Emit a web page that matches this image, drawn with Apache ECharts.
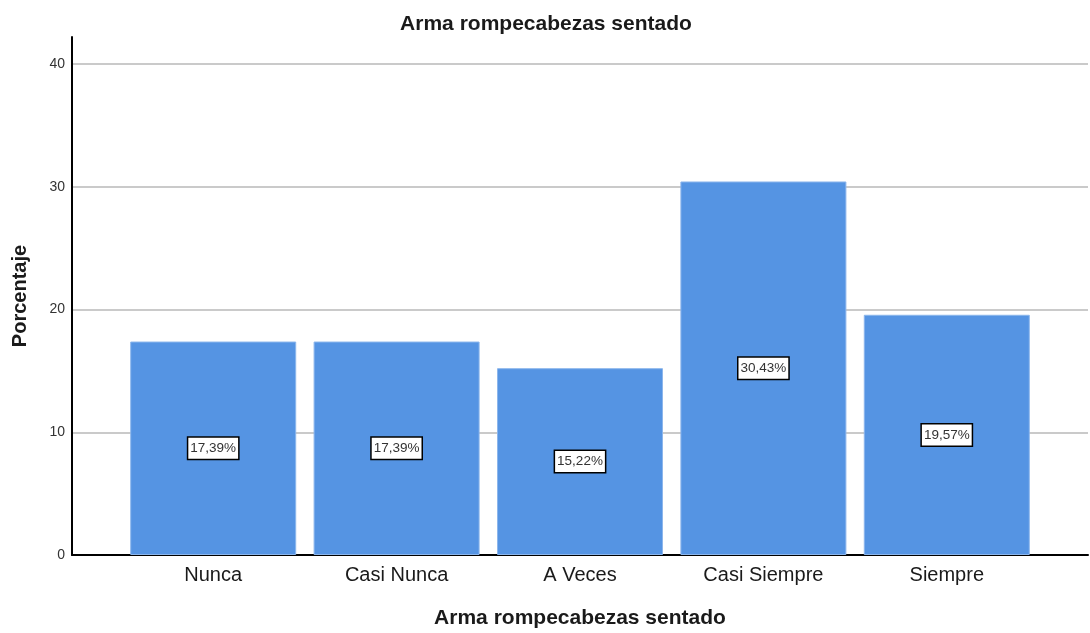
<!DOCTYPE html>
<html><head><meta charset="utf-8">
<script src="https://cdn.jsdelivr.net/npm/echarts@6/dist/echarts.min.js"></script>
<style>html,body{margin:0;padding:0;background:#fff}#c{width:1090px;height:633px}</style>
</head><body><div id="c"></div>
<script>
const categories = ["Nunca", "Casi Nunca", "A Veces", "Casi Siempre", "Siempre"];
const values = [17.39, 17.39, 15.22, 30.43, 19.57];
const yTicks = [0, 10, 20, 30, 40];

const chart = echarts.init(document.getElementById('c'), null, {renderer: 'canvas'});
const F = 'Liberation Sans, Arial, sans-serif';
chart.setOption({
  animation: false,
  backgroundColor: '#fff',
  title: {
    text: 'Arma rompecabezas sentado', left: 541, top: 9, textAlign: 'center',
    textStyle: {fontFamily: F, fontSize: 21, fontWeight: 'bold', color: '#1a1a1a'}
  },
  grid: {left: 72, right: 2, top: 37, bottom: 78, containLabel: false, outerBoundsMode: 'none'},
  xAxis: {
    type: 'value', min: -0.77, max: 4.77,
    name: 'Arma rompecabezas sentado', nameLocation: 'middle', nameGap: 53,
    nameTextStyle: {fontFamily: F, fontSize: 21, fontWeight: 'bold', color: '#1a1a1a'},
    axisLine: {show: true, onZero: true, lineStyle: {color: '#000', width: 2}},
    axisTick: {show: false},
    splitLine: {show: false},
    axisLabel: {
      customValues: categories.map((c, i) => i),
      formatter: v => categories[Math.round(v)] || '',
      margin: 10, fontFamily: F, fontSize: 20, color: '#1a1a1a'
    }
  },
  yAxis: {
    type: 'value', min: 0, max: 42.2,
    name: 'Porcentaje', nameLocation: 'middle', nameGap: 42, nameRotate: 90,
    nameTextStyle: {fontFamily: F, fontSize: 20, fontWeight: 'bold', color: '#1a1a1a'},
    axisLine: {show: true, onZero: false, lineStyle: {color: '#000', width: 2}},
    axisTick: {show: false},
    splitLine: {show: true, showMaxLine: false, lineStyle: {color: '#b8b8b8', width: 1.5}},
    axisLabel: {
      customValues: yTicks,
      margin: 7, fontFamily: F, fontSize: 14, color: '#333'
    }
  },
  series: [{
    type: 'bar',
    data: values.map((v, i) => [i, v]),
    barWidth: 166,
    itemStyle: {color: '#5594e3', borderColor: '#8cb6ec', borderWidth: 1},
    label: {
      show: true, position: 'inside',
      formatter: p => p.value[1].toFixed(2).replace('.', ',') + '%',
      fontFamily: F, fontSize: 13.5, color: '#333',
      backgroundColor: '#fff', borderColor: '#000', borderWidth: 1.5,
      padding: [4, 2, 3, 2]
    }
  }]
});
</script></body></html>
